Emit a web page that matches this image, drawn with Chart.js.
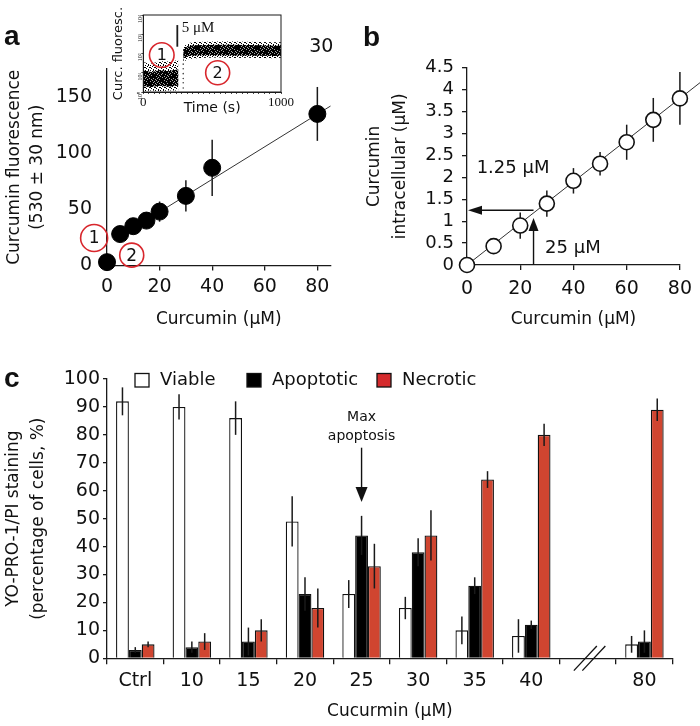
<!DOCTYPE html>
<html>
<head>
<meta charset="utf-8">
<script src="https://cdn.jsdelivr.net/npm/chart.js@4.4.1/dist/chart.umd.min.js"></script>
<style>
body { margin: 0; background: #fff; }
#wrap { position: relative; width: 700px; height: 726px; overflow: hidden; }
canvas { position: absolute; }
.panel { position: absolute; font: bold 28px "Liberation Sans", Arial, sans-serif; line-height: 1; color: #111; }
</style>
</head>
<body>
<div id="wrap">
  <canvas id="chartA" width="340" height="330" style="left:0;top:0"></canvas>
  <canvas id="inset" width="190" height="118" style="left:105px;top:0"></canvas>
  <canvas id="chartB" width="360" height="330" style="left:340px;top:0"></canvas>
  <canvas id="chartC" width="700" height="396" style="left:0;top:330px"></canvas>
  <div class="panel" style="left:4px;top:22px">a</div>
  <div class="panel" style="left:363px;top:23px">b</div>
  <div class="panel" style="left:4px;top:364px">c</div>
</div>
<script>
// panel a: extracellular dose vs fluorescence
const doseA = [0, 5, 10, 15, 20, 30, 40, 80];
const fluorA = [3, 28, 35, 40, 48, 62, 87, 135];
const fluorErrA = [0, 0, 0, 0, 9, 14, 25, 24];
const fitAX = [5, 85];
const fitAY = [26, 142];
const ticksAX = [0, 20, 40, 60, 80];
const ticksAY = [0, 50, 100, 150];

// inset of panel a: flow trace (edges of the dot cloud, log scale)
const timeSeg1 = [0, 60, 120, 180, 255];
const outerLo1 = [1.1, 1.2, 1.1, 1.2, 1.2];
const outerHi1 = [35, 30, 40, 38, 45];
const coreLo1 = [2, 1.8, 2.1, 1.9, 2.1];
const coreHi1 = [13, 11, 14, 12, 15];
const timeSeg2 = [290, 320, 360, 450, 550, 650, 750, 850, 950, 1000];
const outerLo2 = [35, 50, 55, 60, 62, 58, 60, 58, 56, 60];
const outerHi2 = [220, 330, 400, 410, 420, 420, 410, 400, 380, 380];
const coreLo2 = [55, 70, 78, 80, 80, 78, 78, 76, 74, 76];
const coreHi2 = [160, 230, 265, 280, 285, 285, 280, 270, 255, 255];
const strayT = [290, 290, 290, 290, 290, 290];
const strayY = [1.6, 3, 5, 9, 16, 28];
const ticksInsetY = [1, 10, 100, 1000, 10000];
const ticksInsetYLabels = ['10\u2070', '10\u00b9', '10\u00b2', '10\u00b3', '10\u2074'];

// panel b: intracellular curcumin
const doseB = [0, 10, 20, 30, 40, 50, 60, 70, 80];
const intraB = [0, 0.43, 0.9, 1.4, 1.92, 2.31, 2.8, 3.31, 3.8];
const intraErrB = [0, 0.05, 0.3, 0.3, 0.29, 0.27, 0.4, 0.5, 0.6];
const fitBX = [0, 88];
const fitBY = [0, 4.18];
const ticksBX = [0, 20, 40, 60, 80];
const ticksBY = [0, 0.5, 1, 1.5, 2, 2.5, 3, 3.5, 4, 4.5];

// panel c: YO-PRO-1/PI staining
const groupsC = ['Ctrl', '10', '15', '20', '25', '30', '35', '40', '', '80'];
const viable = [92, 90, 86, 49, 23, 18, 10, 8, null, 5];
const viableErr = [5, 4.5, 6, 9, 5, 4, 5, 6, null, 3];
const apoptotic = [3, 4, 6, 23, 44, 38, 26, 12, null, 6];
const apoptoticErr = [1, 2, 5, 6, 7, 5, 3, 1.5, null, 4];
const necrotic = [5, 6, 10, 18, 33, 44, 64, 80, null, 89];
const necroticErr = [1, 3, 4, 7, 8, 9, 3, 4, null, 4];
const ticksCY = [0, 10, 20, 30, 40, 50, 60, 70, 80, 90, 100];

const FONT = '"DejaVu Sans", sans-serif';
const SERIF = '"Liberation Serif", "Times New Roman", serif';
const INK = '#1a1a1a';
const RING = '#d8262c';
Chart.defaults.font.family = FONT;
Chart.defaults.color = '#111';
Chart.defaults.animation = false;

const pts = (xs, ys) => xs.map((x, i) => ({x: x, y: ys[i]}));
const fixedTicks = values => s => { s.ticks = values.map(v => ({value: v})); };

// stipple fill for the flow-cytometry cloud (fixed dot layout in a small tile)
function stipple(size, dots, bg) {
    const c = document.createElement('canvas');
    c.width = size; c.height = size;
    const g = c.getContext('2d');
    if (bg) { g.fillStyle = bg; g.fillRect(0, 0, size, size); }
    g.fillStyle = '#000';
    dots.forEach(d => g.fillRect(d[0], d[1], 1, 1));
    return g.createPattern(c, 'repeat');
}

// vertical error bars read from dataset.errors
function drawErrors(chart, opts) {
    const ctx = chart.ctx;
    chart.data.datasets.forEach((ds, di) => {
        if (!ds.errors) return;
        const meta = chart.getDatasetMeta(di);
        const ys = chart.scales[meta.yAxisID];
        meta.data.forEach((el, i) => {
            const e = ds.errors[i];
            if (!e) return;
            const raw = ds.data[i];
            const v = (raw !== null && typeof raw === 'object') ? raw.y : raw;
            ctx.save();
            ctx.strokeStyle = INK;
            ctx.lineWidth = opts.width || 1.5;
            ctx.beginPath();
            ctx.moveTo(el.x, ys.getPixelForValue(v - e));
            ctx.lineTo(el.x, ys.getPixelForValue(v + e));
            ctx.stroke();
            ctx.restore();
        });
    });
}
const errorBars = {
    id: 'errorBars',
    beforeDatasetsDraw(chart, args, opts) { if (opts.under) drawErrors(chart, opts); },
    afterDatasetsDraw(chart, args, opts) { if (!opts.under) drawErrors(chart, opts); }
};

function arrow(ctx, x1, y1, x2, y2, len, half) {
    const a = Math.atan2(y2 - y1, x2 - x1);
    ctx.beginPath();
    ctx.moveTo(x1, y1);
    ctx.lineTo(x2 - Math.cos(a) * len * 0.8, y2 - Math.sin(a) * len * 0.8);
    ctx.stroke();
    ctx.beginPath();
    ctx.moveTo(x2, y2);
    ctx.lineTo(x2 - Math.cos(a) * len - Math.sin(a) * half, y2 - Math.sin(a) * len + Math.cos(a) * half);
    ctx.lineTo(x2 - Math.cos(a) * len + Math.sin(a) * half, y2 - Math.sin(a) * len - Math.cos(a) * half);
    ctx.closePath();
    ctx.fill();
}

function ring(ctx, x, y, r, label, size) {
    ctx.save();
    ctx.strokeStyle = RING;
    ctx.lineWidth = 1.6;
    ctx.beginPath();
    ctx.arc(x, y, r, 0, Math.PI * 2);
    ctx.stroke();
    ctx.fillStyle = '#111';
    ctx.font = size + 'px ' + FONT;
    ctx.textAlign = 'center';
    ctx.textBaseline = 'middle';
    ctx.fillText(label, x, y + 1);
    ctx.restore();
}

function axisBase(extra) {
    return Object.assign({
        border: {color: INK, width: 1.3},
        grid: {drawOnChartArea: false, color: INK, lineWidth: 1.3, tickLength: 5},
    }, extra);
}

// ---------- panel a ----------
new Chart(document.getElementById('chartA'), {
    type: 'scatter',
    data: {
        datasets: [
            {type: 'line', data: pts(fitAX, fitAY), borderColor: '#333', borderWidth: 1, pointRadius: 0, clip: false, order: 2},
            {data: pts(doseA, fluorA), errors: fluorErrA, backgroundColor: '#000', borderColor: '#000',
             pointRadius: 8.5, clip: false, order: 1}
        ]
    },
    options: {
        responsive: false,
        layout: {padding: {top: 69, right: 8, left: 0, bottom: 0}},
        plugins: {legend: {display: false}, tooltip: {enabled: false}, errorBars: {under: true, width: 1.5}},
        scales: {
            x: axisBase({
                type: 'linear', min: 0, max: 85,
                afterFit: s => { s.height = 64.5; },
                afterBuildTicks: fixedTicks(ticksAX),
                ticks: {font: {size: 19}, padding: 5, maxRotation: 0, autoSkip: false},
                title: {display: true, text: 'Curcumin (\u03bcM)', font: {size: 17}, padding: 0}
            }),
            y: axisBase({
                min: 0, max: 175,
                afterFit: s => { s.width = 107; },
                afterBuildTicks: fixedTicks(ticksAY),
                grid: {display: false},
                ticks: {font: {size: 19}, padding: 7, autoSkip: false},
                title: {display: true, text: ['Curcumin fluorescence', '(530 \u00b1 30 nm)'],
                        font: {size: 17, lineHeight: 1.35}, padding: {top: 3}}
            })
        }
    },
    plugins: [errorBars, {
        id: 'notesA',
        afterDraw(chart) {
            const {ctx, scales: {x, y}} = chart;
            ring(ctx, x.getPixelForValue(-4.9), y.getPixelForValue(24.5), 13.5, '1', 17);
            ring(ctx, x.getPixelForValue(9.4), y.getPixelForValue(9.2), 12, '2', 17);
            ctx.save();
            ctx.fillStyle = '#111';
            ctx.font = '19px ' + FONT;
            ctx.textAlign = 'center';
            ctx.textBaseline = 'middle';
            ctx.fillText('30', x.getPixelForValue(81.5), y.getPixelForValue(194.6));
            ctx.restore();
        }
    }]
});

// ---------- inset ----------
const sparseFill = stipple(5, [[0, 0], [2, 1], [4, 2], [1, 3], [3, 4], [0, 2], [3, 0]], null);
const denseFill = stipple(4, [[0, 0], [1, 0], [2, 0], [0, 1], [2, 1], [3, 1], [1, 2], [2, 2], [3, 2], [0, 3], [1, 3], [3, 3]], 'rgba(0,0,0,0.35)');
const band = (xs, ys, fill, color) => ({
    type: 'line', data: pts(xs, ys), borderWidth: 0, pointRadius: 0,
    fill: fill, backgroundColor: color, borderColor: 'rgba(0,0,0,0)'
});
new Chart(document.getElementById('inset'), {
    type: 'scatter',
    data: {
        datasets: [
            band(timeSeg1, outerLo1, false, sparseFill),
            band(timeSeg1, outerHi1, '-1', sparseFill),
            band(timeSeg1, coreLo1, false, denseFill),
            band(timeSeg1, coreHi1, '-1', denseFill),
            band(timeSeg2, outerLo2, false, sparseFill),
            band(timeSeg2, outerHi2, '-1', sparseFill),
            band(timeSeg2, coreLo2, false, denseFill),
            band(timeSeg2, coreHi2, '-1', denseFill),
            {data: pts(strayT, strayY), pointRadius: 0.8, backgroundColor: '#444', borderWidth: 0}
        ]
    },
    options: {
        responsive: false,
        layout: {padding: {top: 15, right: 14, left: 0, bottom: 0}},
        plugins: {legend: {display: false}, tooltip: {enabled: false}},
        scales: {
            x: {
                type: 'linear', min: 0, max: 1000,
                afterFit: s => { s.height = 26; },
                afterBuildTicks: s => { s.ticks = []; for (let t = 0; t <= 1000; t += 40) s.ticks.push({value: t}); },
                border: {color: INK, width: 1},
                grid: {drawOnChartArea: false, color: INK, lineWidth: 0.8, tickLength: 2},
                ticks: {font: {family: SERIF, size: 13}, padding: 1, maxRotation: 0, autoSkip: false,
                        callback: v => (v === 0 || v === 1000) ? String(v) : ''},
                title: {display: true, text: 'Time (s)', font: {size: 14}, padding: {top: 0, bottom: 1}}
            },
            y: {
                type: 'logarithmic', min: 1, max: 10000,
                afterFit: s => { s.width = 38.3; },
                afterBuildTicks: fixedTicks(ticksInsetY),
                border: {color: INK, width: 1},
                grid: {drawOnChartArea: false, color: INK, lineWidth: 0.8, tickLength: 2},
                ticks: {font: {family: SERIF, size: 6}, padding: 1, minRotation: 90, maxRotation: 90, autoSkip: false,
                        callback: v => ticksInsetYLabels[ticksInsetY.indexOf(v)]},
                title: {display: true, text: 'Curc. fluoresc.', font: {size: 13}, padding: {top: 6}}
            }
        }
    },
    plugins: [{
        id: 'notesInset',
        afterDraw(chart) {
            const {ctx, chartArea: ca, scales: {x, y}} = chart;
            ctx.save();
            ctx.strokeStyle = INK;
            ctx.lineWidth = 1;
            ctx.strokeRect(ca.left, ca.top, ca.right - ca.left, ca.bottom - ca.top);
            ctx.lineWidth = 1.8;
            ctx.beginPath();
            ctx.moveTo(x.getPixelForValue(247), y.getPixelForValue(3000));
            ctx.lineTo(x.getPixelForValue(247), y.getPixelForValue(225));
            ctx.stroke();
            ctx.fillStyle = '#111';
            ctx.font = '15px ' + SERIF;
            ctx.textBaseline = 'alphabetic';
            ctx.fillText('5 \u03bcM', x.getPixelForValue(279), y.getPixelForValue(1350));
            ctx.restore();
            ring(ctx, x.getPixelForValue(134), y.getPixelForValue(83), 12.3, '1', 16);
            ring(ctx, x.getPixelForValue(540), y.getPixelForValue(10), 12, '2', 16);
        }
    }]
});

// ---------- panel b ----------
new Chart(document.getElementById('chartB'), {
    type: 'scatter',
    data: {
        datasets: [
            {type: 'line', data: pts(fitBX, fitBY), borderColor: '#333', borderWidth: 1, pointRadius: 0, clip: false, order: 2},
            {data: pts(doseB, intraB), errors: intraErrB, backgroundColor: '#fff', borderColor: '#111',
             borderWidth: 1.6, pointRadius: 7.5, clip: false, order: 1}
        ]
    },
    options: {
        responsive: false,
        layout: {padding: {top: 67.7, right: 20, left: 0, bottom: 0}},
        plugins: {legend: {display: false}, tooltip: {enabled: false}, errorBars: {under: true, width: 1.5}},
        scales: {
            x: axisBase({
                type: 'linear', min: 0, max: 80,
                afterFit: s => { s.height = 65; },
                afterBuildTicks: fixedTicks(ticksBX),
                ticks: {font: {size: 19}, padding: 8, maxRotation: 0, autoSkip: false},
                title: {display: true, text: 'Curcumin (\u03bcM)', font: {size: 17}, padding: 0}
            }),
            y: axisBase({
                min: 0, max: 4.5,
                afterFit: s => { s.width = 127; },
                afterBuildTicks: fixedTicks(ticksBY),
                ticks: {font: {size: 18, lineHeight: 1}, padding: 8, autoSkip: false, callback: v => String(v)},
                title: {display: true, text: ['Curcumin', 'intracellular (\u03bcM)'],
                        font: {size: 17, lineHeight: 1.55}, padding: {top: 21}}
            })
        }
    },
    plugins: [errorBars, {
        id: 'notesB',
        afterDraw(chart) {
            const {ctx, scales: {x, y}} = chart;
            ctx.save();
            ctx.strokeStyle = '#111';
            ctx.fillStyle = '#111';
            ctx.lineWidth = 1.4;
            arrow(ctx, x.getPixelForValue(25), y.getPixelForValue(1.25), x.getPixelForValue(0) + 1, y.getPixelForValue(1.25), 14, 4.5);
            arrow(ctx, x.getPixelForValue(25), y.getPixelForValue(0), x.getPixelForValue(25), y.getPixelForValue(1.07), 13, 5);
            ctx.font = '18px ' + FONT;
            ctx.textAlign = 'center';
            ctx.textBaseline = 'middle';
            ctx.fillText('1.25 \u03bcM', x.getPixelForValue(17.3), y.getPixelForValue(2.21));
            ctx.fillText('25 \u03bcM', x.getPixelForValue(39.8), y.getPixelForValue(0.39));
            ctx.restore();
        }
    }]
});

// ---------- panel c ----------
const legendBox = ['#fff', '#000', '#d42a2c'];
new Chart(document.getElementById('chartC'), {
    type: 'bar',
    data: {
        labels: groupsC,
        datasets: [
            {label: 'Viable', data: viable, errors: viableErr, backgroundColor: '#fff'},
            {label: 'Apoptotic', data: apoptotic, errors: apoptoticErr, backgroundColor: '#000'},
            {label: 'Necrotic', data: necrotic, errors: necroticErr, backgroundColor: '#d04530'}
        ]
    },
    options: {
        responsive: false,
        layout: {padding: {top: 49, right: 27.3, left: 0, bottom: 0}},
        datasets: {bar: {borderColor: '#111', borderWidth: 1.3, categoryPercentage: 0.68, barPercentage: 1}},
        plugins: {legend: {display: false}, tooltip: {enabled: false}, errorBars: {under: false, width: 1.5}},
        scales: {
            x: axisBase({
                afterFit: s => { s.height = 67.7; },
                grid: {drawOnChartArea: false, color: INK, lineWidth: 1.3, tickLength: 6, offset: true},
                ticks: {font: {size: 19}, padding: 5, maxRotation: 0, autoSkip: false},
                title: {display: true, text: 'Cucurmin (\u03bcM)', font: {size: 17}, padding: {top: 0, bottom: 4}}
            }),
            y: axisBase({
                min: 0, max: 100,
                afterFit: s => { s.width = 107; },
                afterBuildTicks: fixedTicks(ticksCY),
                grid: {drawOnChartArea: false, color: INK, lineWidth: 1.3, tickLength: 4},
                ticks: {font: {size: 19}, padding: 3, autoSkip: false},
                title: {display: true, text: ['YO-PRO-1/PI staining', '(percentage of cells, %)'],
                        font: {size: 17, lineHeight: 1.47}, padding: {top: 1}}
            })
        }
    },
    plugins: [errorBars, {
        id: 'notesC',
        afterDraw(chart) {
            const {ctx, scales: {x, y}} = chart;
            ctx.save();
            // legend
            const boxX = [135, 247, 377];
            ctx.font = '18px ' + FONT;
            ctx.textBaseline = 'middle';
            chart.data.datasets.forEach((ds, i) => {
                ctx.fillStyle = legendBox[i];
                ctx.fillRect(boxX[i], 43.5, 14, 13.5);
                ctx.strokeStyle = '#111';
                ctx.lineWidth = 1.3;
                ctx.strokeRect(boxX[i], 43.5, 14, 13.5);
                ctx.fillStyle = '#111';
                ctx.fillText(ds.label, boxX[i] + 25, 50.5);
            });
            // max apoptosis marker over the 25 µM group
            const ax = x.getPixelForValue(4);
            ctx.font = '14px ' + FONT;
            ctx.textAlign = 'center';
            ctx.fillText('Max', ax, y.getPixelForValue(86.4));
            ctx.fillText('apoptosis', ax, y.getPixelForValue(79.3));
            ctx.strokeStyle = '#111';
            ctx.lineWidth = 1.4;
            arrow(ctx, ax, y.getPixelForValue(75.4), ax, y.getPixelForValue(56), 15, 6);
            // axis break in the empty slot
            const bx = x.getPixelForValue(8), by = y.getPixelForValue(0);
            ctx.lineWidth = 1.3;
            [-2.5, 6].forEach(o => {
                ctx.beginPath();
                ctx.moveTo(bx + o - 11.5, by + 12.3);
                ctx.lineTo(bx + o + 11.5, by - 12.3);
                ctx.stroke();
            });
            ctx.restore();
        }
    }]
});
</script>
</body>
</html>
